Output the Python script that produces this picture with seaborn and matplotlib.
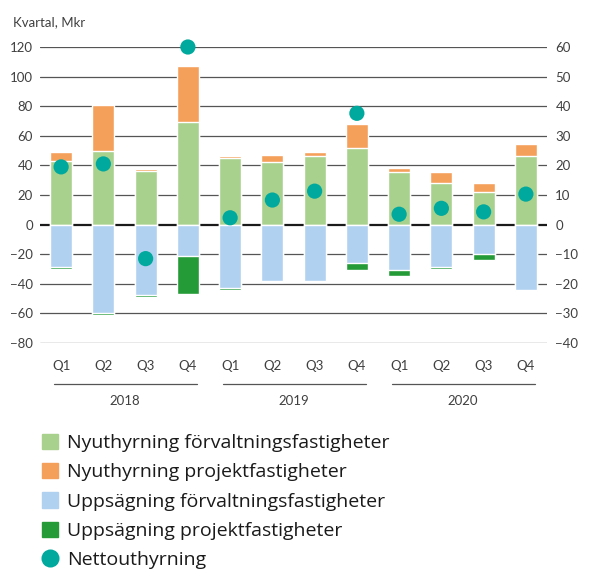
import numpy as np
import pandas as pd
import matplotlib
matplotlib.use("Agg")
import matplotlib.pyplot as plt
from matplotlib.patches import Patch
from matplotlib.lines import Line2D
import seaborn as sns

# Quarterly letting data, MSEK
quarters = ["Q1", "Q2", "Q3", "Q4"] * 3
years = ["2018", "2019", "2020"]
period = [f"{y} {q}" for y in years for q in ["Q1", "Q2", "Q3", "Q4"]]

nyuthyrning_forv = [43, 50, 36, 69, 45, 42, 46.5, 52, 35.5, 28, 22, 46.5]
nyuthyrning_proj = [6, 31, 1.5, 38, 1.2, 4.7, 2.4, 16, 2.7, 7.5, 6, 8]
uppsagning_forv = [-28.7, -59.5, -47.6, -21.2, -42.8, -37.9, -37.9, -26, -30.7, -28.6, -19.6, -44.2]
uppsagning_proj = [-1.2, -1.3, -1.1, -26, -1.2, -0.7, -0.3, -5, -3.8, -1.4, -4.3, -0.7]
nettouthyrning = [19.5, 20.5, -11.5, 60, 2.3, 8.3, 11.3, 37.6, 3.5, 5.5, 4.3, 10.3]

c_nf = "#a9d18e"
c_np = "#f5a05a"
c_uf = "#b0d1ef"
c_up = "#259b37"
c_net = "#00a99d"
text_c = "#404040"

df = pd.DataFrame({
    "period": period,
    "nf": nyuthyrning_forv,
    "np": nyuthyrning_proj,
    "uf": uppsagning_forv,
    "up": uppsagning_proj,
    "net": nettouthyrning,
})
df["pos_total"] = df["nf"] + df["np"]
df["neg_total"] = df["uf"] + df["up"]
df["idx"] = np.arange(len(df))

sns.set_theme(style="white")
plt.rcParams["font.family"] = ["Lato", "DejaVu Sans"]

fig = plt.figure(figsize=(6.01, 5.70), dpi=100)
ax = fig.add_axes([40 / 601, 1 - 343 / 570, 507 / 601, 296 / 570])

# horizontal grid
for v in range(-80, 121, 20):
    ax.axhline(v, color="#1a1a1a" if v == 0 else "#555555",
               lw=1.6 if v == 0 else 0.9, zorder=0)

bw = 0.52
# stacked bars: draw totals first, then the base segment on top
sns.barplot(data=df, x="period", y="pos_total", color=c_np, width=bw,
            saturation=1, ax=ax, zorder=2)
sns.barplot(data=df, x="period", y="nf", color=c_nf, width=bw,
            saturation=1, ax=ax, zorder=3)
sns.barplot(data=df, x="period", y="neg_total", color=c_up, width=bw,
            saturation=1, ax=ax, zorder=2)
sns.barplot(data=df, x="period", y="uf", color=c_uf, width=bw,
            saturation=1, ax=ax, zorder=3)

ax.set_xlim(-0.5, 11.5)
ax.set_ylim(-80, 120)
ax.set_yticks(range(-80, 121, 20))
ax.set_xticks(range(12))
ax.set_xticklabels(quarters)
ax.set_xlabel("")
ax.set_ylabel("")
ax.tick_params(axis="x", length=0, pad=12, labelsize=9.5, labelcolor=text_c)
ax.tick_params(axis="y", length=0, pad=5, labelsize=9.5, labelcolor=text_c)
for s in ax.spines.values():
    s.set_visible(False)

# net letting on the secondary axis
ax2 = ax.twinx()
ax2.set_ylim(-40, 60)
ax2.set_yticks(range(-40, 61, 10))
ax2.tick_params(axis="y", length=0, pad=6, labelsize=9.5, labelcolor=text_c)
for s in ax2.spines.values():
    s.set_visible(False)
ax2.grid(False)
sns.scatterplot(data=df, x="idx", y="net", color=c_net, s=120, edgecolor="none",
                ax=ax2, zorder=5, clip_on=False, legend=False)
ax2.set_xlim(-0.5, 11.5)
ax2.set_ylabel("")

# year grouping under the quarter labels
tr = ax.get_xaxis_transform()
for i, y in enumerate(years):
    x0, x1 = 4 * i - 0.17, 4 * i + 3 + 0.22
    ax.plot([x0, x1], [-0.138, -0.138], color="#555555", lw=0.9,
            transform=tr, clip_on=False)
    ax.text(4 * i + 1.5, -0.195, y, transform=tr, ha="center", va="center",
            fontsize=9.5, color=text_c)

fig.text(13 / 601, 1 - 22 / 570, "Kvartal, Mkr", ha="left", va="center",
         fontsize=9.5, color=text_c)

handles = [
    Patch(color=c_nf, label="Nyuthyrning förvaltningsfastigheter"),
    Patch(color=c_np, label="Nyuthyrning projektfastigheter"),
    Patch(color=c_uf, label="Uppsägning förvaltningsfastigheter"),
    Patch(color=c_up, label="Uppsägning projektfastigheter"),
    Line2D([0], [0], marker="o", linestyle="none", markerfacecolor=c_net,
           markeredgecolor="none", markersize=13, label="Nettouthyrning"),
]
fig.legend(handles=handles, loc="upper left", bbox_to_anchor=(24 / 601, 1 - 416 / 570),
           frameon=False, prop={"family": ["Open Sans", "DejaVu Sans"], "size": 14},
           handlelength=0.85, handleheight=0.85, handletextpad=0.45,
           labelspacing=0.56, labelcolor="#1a1a1a", borderpad=0.4)

fig.savefig("out.png", dpi=100)
